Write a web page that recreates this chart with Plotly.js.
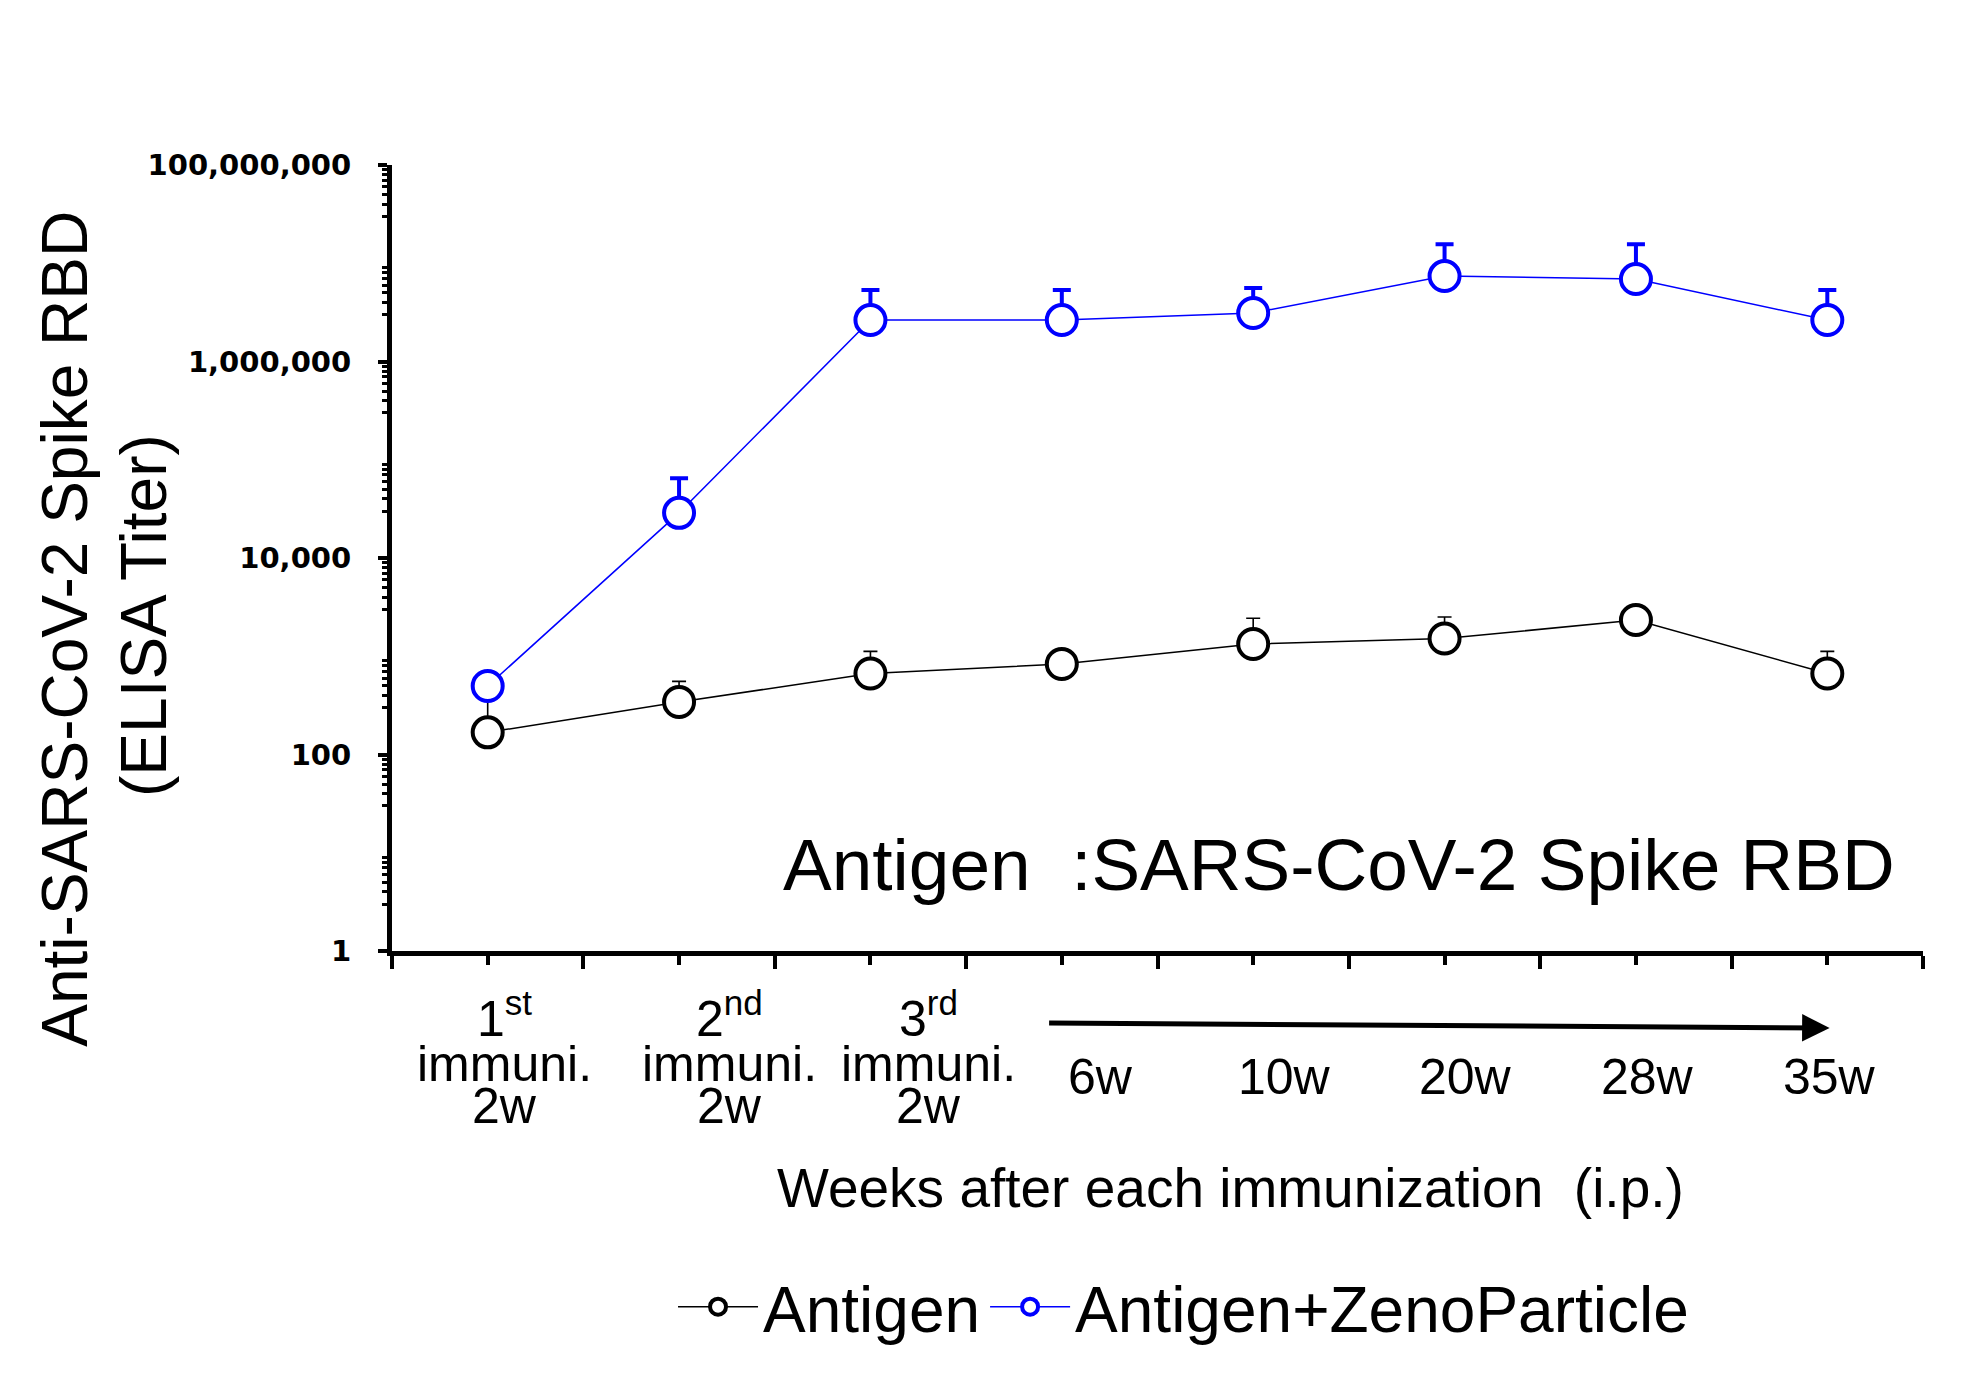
<!DOCTYPE html>
<html>
<head>
<meta charset="utf-8">
<script src="https://cdn.plot.ly/plotly-3.0.1.min.js"></script>
<style>
html, body { margin: 0; padding: 0; background: #ffffff; }
#chart { width: 1975px; height: 1384px; }
</style>
</head>
<body>
<div id="chart"></div>
<script>
// ---- data ----
const pointIndex = [0, 1, 2, 3, 4, 5, 6, 7];
const phaseLabels = ["1<sup>st</sup>", "2<sup>nd</sup>", "3<sup>rd</sup>"];
const phaseMiddle = "immuni.";
const phaseWeeks = "2w";
const laterWeeks = ["6w", "10w", "20w", "28w", "35w"];

const antigenName = "Antigen";
const antigenMean = [168, 342, 667, 834, 1333, 1513, 2338, 667];
const antigenUpper = [450, 555, 1120, 1000, 2440, 2510, 2800, 1120];

const zenoName = "Antigen+ZenoParticle";
const zenoMean = [498, 28800, 2640000, 2640000, 3120000, 7400000, 6900000, 2640000];
const zenoUpper = [560, 65000, 5350000, 5350000, 5600000, 15600000, 15600000, 5350000];

const yTickValues = [1, 100, 10000, 1000000, 100000000];
const yTickText = ["1", "100", "10,000", "1,000,000", "100,000,000"];
const yOddDecades = [10, 1000, 100000, 10000000];

const yTitle1 = "Anti-SARS-CoV-2 Spike RBD";
const yTitle2 = "(ELISA Titer)";
const xTitle = "Weeks after each immunization\u00A0\u00A0(i.p.)";
const antigenNote = "Antigen\u00A0\u00A0:SARS-CoV-2 Spike RBD";

// ---- helpers ----
const plusErr = (upper, mean) => upper.map((u, i) => u - mean[i]);
const minorLog = [];
for (let d = 0; d < 8; d++) {
  for (let k = 3; k <= 9; k++) minorLog.push(k * Math.pow(10, d));
}
const xBoundaries = [];
for (let i = -0.5; i <= 7.5; i += 1) xBoundaries.push(i);

const FONT = "Liberation Sans, Arial, Helvetica, sans-serif";

const traces = [
  {
    x: pointIndex, y: antigenMean, name: antigenName, type: "scatter", mode: "lines+markers",
    line: { color: "#000000", width: 1.5 },
    marker: { symbol: "circle", size: 30, color: "#ffffff", line: { color: "#000000", width: 4 } },
    error_y: { type: "data", symmetric: false, array: plusErr(antigenUpper, antigenMean),
               arrayminus: antigenMean.map(() => 0), color: "#000000", thickness: 1.6, width: 7 }
  },
  {
    x: pointIndex, y: zenoMean, name: zenoName, type: "scatter", mode: "lines+markers",
    line: { color: "#0000ff", width: 1.5 },
    marker: { symbol: "circle", size: 30, color: "#ffffff", line: { color: "#0000ff", width: 4 } },
    error_y: { type: "data", symmetric: false, array: plusErr(zenoUpper, zenoMean),
               arrayminus: zenoMean.map(() => 0), color: "#0000ff", thickness: 4, width: 9 }
  }
];

// x tick label annotations
const annotations = [];
const labelShift = [17, 50, 58, 39, 31, 21, 12, 2];
const TICKFONT = { family: FONT, size: 50, color: "#000" };
phaseLabels.forEach((lab, i) => {
  annotations.push({ x: pointIndex[i], y: -0.081, xref: "x", yref: "paper", text: lab, showarrow: false,
    xshift: labelShift[i], xanchor: "center", yanchor: "middle", font: TICKFONT });
  annotations.push({ x: pointIndex[i], y: -0.144, xref: "x", yref: "paper", text: phaseMiddle, showarrow: false,
    xshift: labelShift[i], xanchor: "center", yanchor: "middle", font: TICKFONT });
  annotations.push({ x: pointIndex[i], y: -0.197, xref: "x", yref: "paper", text: phaseWeeks, showarrow: false,
    xshift: labelShift[i], xanchor: "center", yanchor: "middle", font: TICKFONT });
});
laterWeeks.forEach((lab, j) => {
  const i = j + phaseLabels.length;
  annotations.push({ x: pointIndex[i], y: -0.160, xref: "x", yref: "paper", text: lab, showarrow: false,
    xshift: labelShift[i], xanchor: "center", yanchor: "middle", font: TICKFONT });
});

// time arrow
annotations.push({ x: 0.939, y: -0.098, xref: "paper", yref: "paper", text: "", showarrow: true,
  ax: -782, ay: -5, axref: "pixel", ayref: "pixel", arrowhead: 2, arrowsize: 1.1, arrowwidth: 5,
  arrowcolor: "#000000", standoff: 0, startstandoff: 0 });

// axis titles and in-plot note
annotations.push({ x: -0.2136, y: 0.41, xref: "paper", yref: "paper", text: yTitle1, textangle: -90,
  showarrow: false, xanchor: "center", yanchor: "middle", font: { family: FONT, size: 64, color: "#000" } });
annotations.push({ x: -0.162, y: 0.4275, xref: "paper", yref: "paper", text: yTitle2, textangle: -90,
  showarrow: false, xanchor: "center", yanchor: "middle", font: { family: FONT, size: 64, color: "#000" } });
annotations.push({ x: 0.548, y: -0.3015, xref: "paper", yref: "paper", text: xTitle,
  showarrow: false, xanchor: "center", yanchor: "middle", font: { family: FONT, size: 55, color: "#000" } });
annotations.push({ x: 0.254, y: 0.11, xref: "paper", yref: "paper", text: antigenNote,
  showarrow: false, xanchor: "left", yanchor: "middle", font: { family: FONT, size: 73, color: "#000" } });

const layout = {
  width: 1975, height: 1384,
  margin: { l: 392, r: 52, t: 165, b: 433, autoexpand: false },
  paper_bgcolor: "#ffffff", plot_bgcolor: "#ffffff",
  font: { family: FONT, color: "#000000" },
  showlegend: true,
  legend: { orientation: "h", x: 0.517, y: -0.453, xanchor: "center", yanchor: "middle",
            font: { family: FONT, size: 64, color: "#000" }, bgcolor: "rgba(0,0,0,0)",
            itemwidth: 80, tracegroupgap: 0 },
  xaxis: {
    range: [-0.5, 7.5], showgrid: false, zeroline: false, showline: true, linewidth: 5, linecolor: "#000",
    tickmode: "array", tickvals: xBoundaries, ticks: "outside", ticklen: 13, tickwidth: 4, tickcolor: "#000",
    showticklabels: false,
    minor: { tickmode: "array", tickvals: pointIndex, ticks: "outside", ticklen: 9, tickwidth: 4, tickcolor: "#000", showgrid: false }
  },
  yaxis: {
    type: "log", range: [0, 8], showgrid: false, zeroline: false, showline: true, linewidth: 5, linecolor: "#000",
    tickmode: "array", tickvals: yTickValues, ticktext: yTickText, ticks: "outside", ticklen: 9, tickwidth: 4,
    tickcolor: "#000", ticklabelstandoff: 21,
    tickfont: { family: "DejaVu Sans, sans-serif", size: 29, weight: 700, color: "#000" },
    minor: { tickmode: "array", tickvals: minorLog, ticks: "outside", ticklen: 5, tickwidth: 3, tickcolor: "#000", showgrid: false }
  },
  yaxis2: {
    type: "log", range: [0, 8], overlaying: "y", anchor: "x", side: "left",
    showgrid: false, zeroline: false, showline: false, showticklabels: false,
    tickmode: "array", tickvals: yOddDecades, ticks: "outside", ticklen: 9, tickwidth: 4, tickcolor: "#000"
  },
  annotations: annotations
};

Plotly.newPlot("chart", traces, layout, { displayModeBar: false, staticPlot: true });
</script>
</body>
</html>
